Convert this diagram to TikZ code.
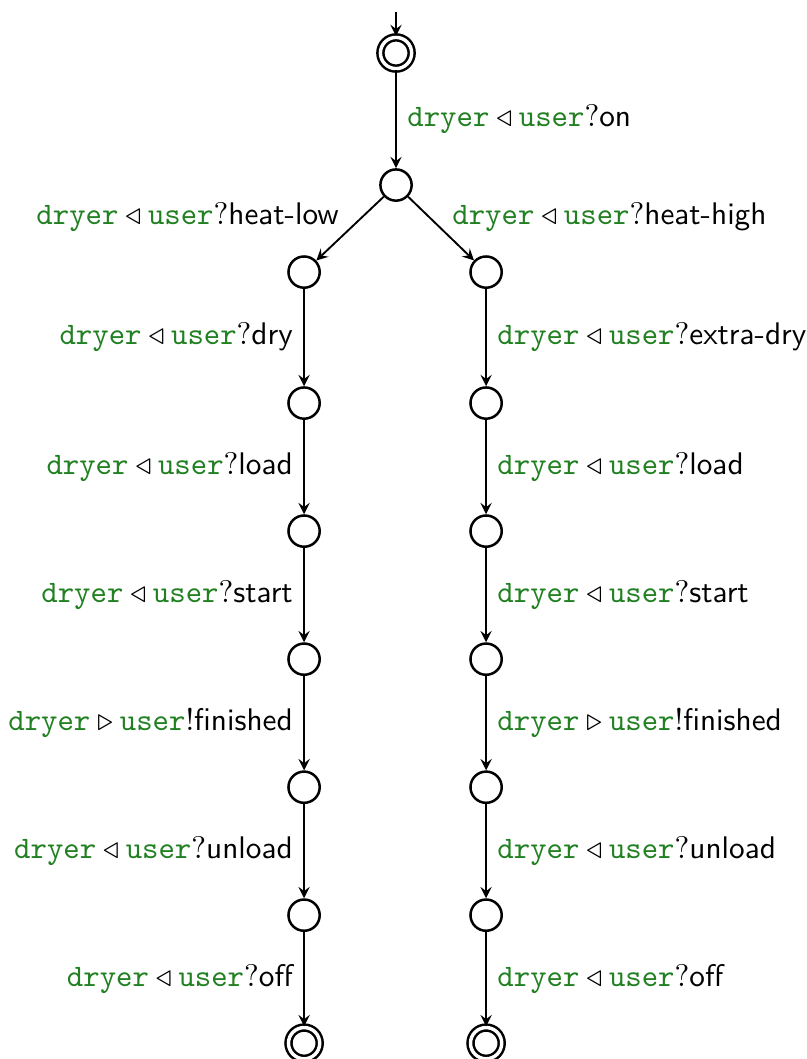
\documentclass[tikz,border=0pt]{standalone}
\usepackage{xcolor}

\definecolor{chan}{rgb}{0.13,0.5,0.13}
\newcommand{\rcv}[1]{$\textcolor{chan}{\mathtt{dryer}}\triangleleft\textcolor{chan}{\mathtt{user}}?$#1}
\newcommand{\snd}[1]{$\textcolor{chan}{\mathtt{dryer}}\triangleright\textcolor{chan}{\mathtt{user}}!$#1}

\tikzset{
  st/.style={circle, draw, thick, minimum size=10pt, inner sep=0pt},
  acc/.style={st, double, double distance=1.1pt}
}

\begin{document}
\begin{tikzpicture}[>=stealth, font=\sffamily, semithick]

        \useasboundingbox (0,0) rectangle (9.07,-11.91);

        \coordinate (start) at (4.454,-0.135);
        \node[acc] (q0) at (4.454,-0.596) {};
        \node[st]  (q1) at (4.454,-2.081) {};

        % heat-low branch
        \node[st]  (l1) at (3.420,-3.060) {};
        \node[st]  (l2) at (3.420,-4.533) {};
        \node[st]  (l3) at (3.420,-5.973) {};
        \node[st]  (l4) at (3.420,-7.413) {};
        \node[st]  (l5) at (3.420,-8.853) {};
        \node[st]  (l6) at (3.420,-10.292) {};
        \node[acc] (l7) at (3.420,-11.732) {};

        % heat-high branch
        \node[st]  (h1) at (5.467,-3.060) {};
        \node[st]  (h2) at (5.467,-4.533) {};
        \node[st]  (h3) at (5.467,-5.973) {};
        \node[st]  (h4) at (5.467,-7.413) {};
        \node[st]  (h5) at (5.467,-8.853) {};
        \node[st]  (h6) at (5.467,-10.292) {};
        \node[acc] (h7) at (5.467,-11.732) {};

        \draw[->] (start) -- (q0);
        \draw[->] (q0) -- node[right] {\rcv{on}} (q1);

        \draw[->] (q1) -- node[above left, yshift=-0.16cm] {\rcv{heat-low}} (l1);
        \draw[->] (q1) -- node[above right, yshift=-0.16cm] {\rcv{heat-high}} (h1);

        \draw[->] (l1) -- node[left] {\rcv{dry}} (l2);
        \draw[->] (l2) -- node[left] {\rcv{load}} (l3);
        \draw[->] (l3) -- node[left] {\rcv{start}} (l4);
        \draw[->] (l4) -- node[left] {\snd{finished}} (l5);
        \draw[->] (l5) -- node[left] {\rcv{unload}} (l6);
        \draw[->] (l6) -- node[left] {\rcv{off}} (l7);

        \draw[->] (h1) -- node[right] {\rcv{extra-dry}} (h2);
        \draw[->] (h2) -- node[right] {\rcv{load}} (h3);
        \draw[->] (h3) -- node[right] {\rcv{start}} (h4);
        \draw[->] (h4) -- node[right] {\snd{finished}} (h5);
        \draw[->] (h5) -- node[right] {\rcv{unload}} (h6);
        \draw[->] (h6) -- node[right] {\rcv{off}} (h7);

        \end{tikzpicture}
\end{document}
